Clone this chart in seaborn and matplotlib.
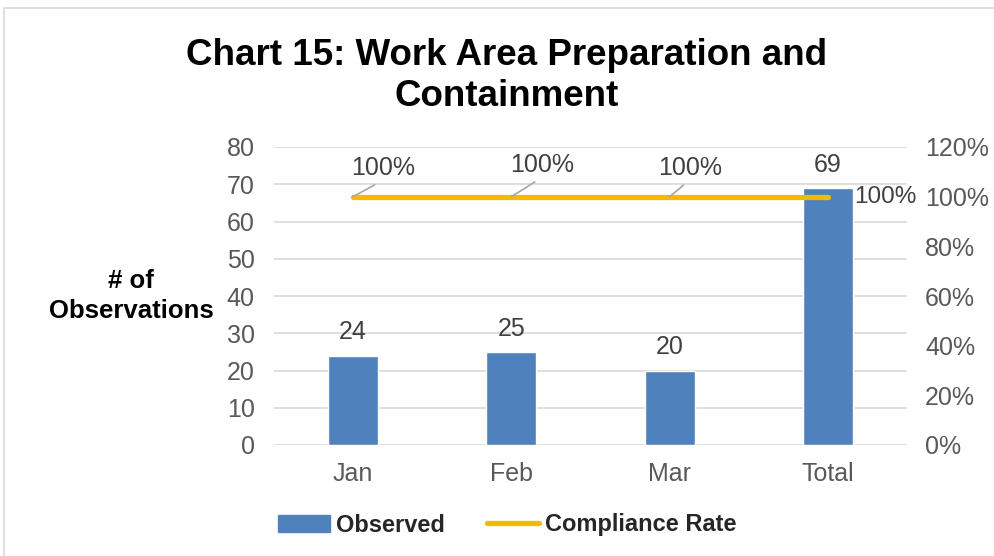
import numpy as np
import matplotlib
matplotlib.use("Agg")
import matplotlib.pyplot as plt
import seaborn as sb
from matplotlib.patches import Rectangle
from matplotlib.lines import Line2D
from matplotlib.ticker import FuncFormatter

months = ["Jan", "Feb", "Mar", "Total"]
observed = [24, 25, 20, 69]
compliance = [1.00, 1.00, 1.00, 1.00]
rate_labels = ["100%", "100%", "100%", "100%"]

BAR_C = "#4F81BD"
LINE_C = "#F5BA00"
GRID_C = "#D9D9D9"
TXT_C = "#595959"
LBL_C = "#404040"
FS = 18

sb.set_theme(style="white")
plt.rcParams['font.family'] = ['Liberation Sans', 'DejaVu Sans']

fig = plt.figure(figsize=(9.95, 5.56), dpi=100)
ax = fig.add_axes([274 / 995, 1 - 445 / 556, 633 / 995, 298 / 556])

sb.barplot(x=months, y=observed, color=BAR_C, width=0.315, saturation=1,
           ax=ax, zorder=2)
ax.set_ylim(0, 80)
ax.set_yticks(range(0, 81, 10))
ax.grid(axis="y", color=GRID_C, linewidth=1.2, zorder=0)
ax.set_axisbelow(True)
for s in ax.spines.values():
    s.set_visible(False)
ax.tick_params(axis="y", length=0, pad=14, labelsize=FS, labelcolor=TXT_C)
ax.tick_params(axis="x", length=0, pad=12.5, labelsize=FS, labelcolor=TXT_C)
ax.set_xlabel("")
ax.set_ylabel("")
ax.bar_label(ax.containers[0], labels=[str(v) for v in observed],
             padding=8, fontsize=FS, color=LBL_C)

ax2 = ax.twinx()
sb.pointplot(x=months, y=compliance, color=LINE_C, markers="",
             linewidth=3.8, ax=ax2)
ax2.set_ylim(0, 1.2)
ax2.set_yticks(np.arange(0, 1.21, 0.2))
ax2.yaxis.set_major_formatter(FuncFormatter(lambda v, p: f"{v:.0%}"))
ax2.tick_params(axis="y", length=0, pad=13, labelsize=FS, labelcolor=TXT_C)
for l in ax2.lines:
    l.set_solid_capstyle("round")
for s in ax2.spines.values():
    s.set_visible(False)
ax2.set_ylabel("")
ax.set_xlim(-0.5, 3.5)
ax2.set_xlim(-0.5, 3.5)

offsets = [(21.6, 20.5), (22.3, 22.6), (14.4, 20.5)]
for i, (dx, dy) in enumerate(offsets):
    ax2.annotate(rate_labels[i], (i, compliance[i]), xytext=(dx, dy),
                 textcoords="offset points", ha="center", va="center",
                 fontsize=FS, color=LBL_C,
                 arrowprops=dict(arrowstyle="-", color="#A6A6A6", lw=1.2,
                                 shrinkA=2, shrinkB=0, relpos=(0.5, 0)))
ax2.annotate(rate_labels[3], (3, compliance[3]), xytext=(19, 0),
             textcoords="offset points", ha="left", va="center",
             fontsize=17.5, color=LBL_C)

fig.text(507 / 995, 1 - 76 / 556, "Chart 15: Work Area Preparation and\nContainment",
         ha="center", va="center", fontsize=26.5, fontweight="bold",
         color="black", linespacing=1.25)
fig.text(131 / 995, 1 - 296 / 556, "# of\nObservations", ha="center",
         va="center", fontsize=18.5, fontweight="bold", color="black",
         multialignment="center", linespacing=1.32)

handles = [Rectangle((0, 0), 1, 1, color=BAR_C),
           Line2D([0], [0], color=LINE_C, lw=3.8, solid_capstyle="round")]
fig.legend(handles, ["Observed", "Compliance Rate"], loc="center",
           bbox_to_anchor=(507 / 995, 1 - 525 / 556), ncol=2, frameon=False,
           prop=dict(size=17, weight="bold"), handlelength=2.2,
           handletextpad=0.25, columnspacing=1.8, handleheight=0.7)

fig.patches.append(Rectangle((4 / 995, -0.1), 1.2, 1.1 - 8 / 556,
                             transform=fig.transFigure, fill=False,
                             edgecolor=GRID_C, lw=1.2))

fig.savefig("out.png", dpi=100)
